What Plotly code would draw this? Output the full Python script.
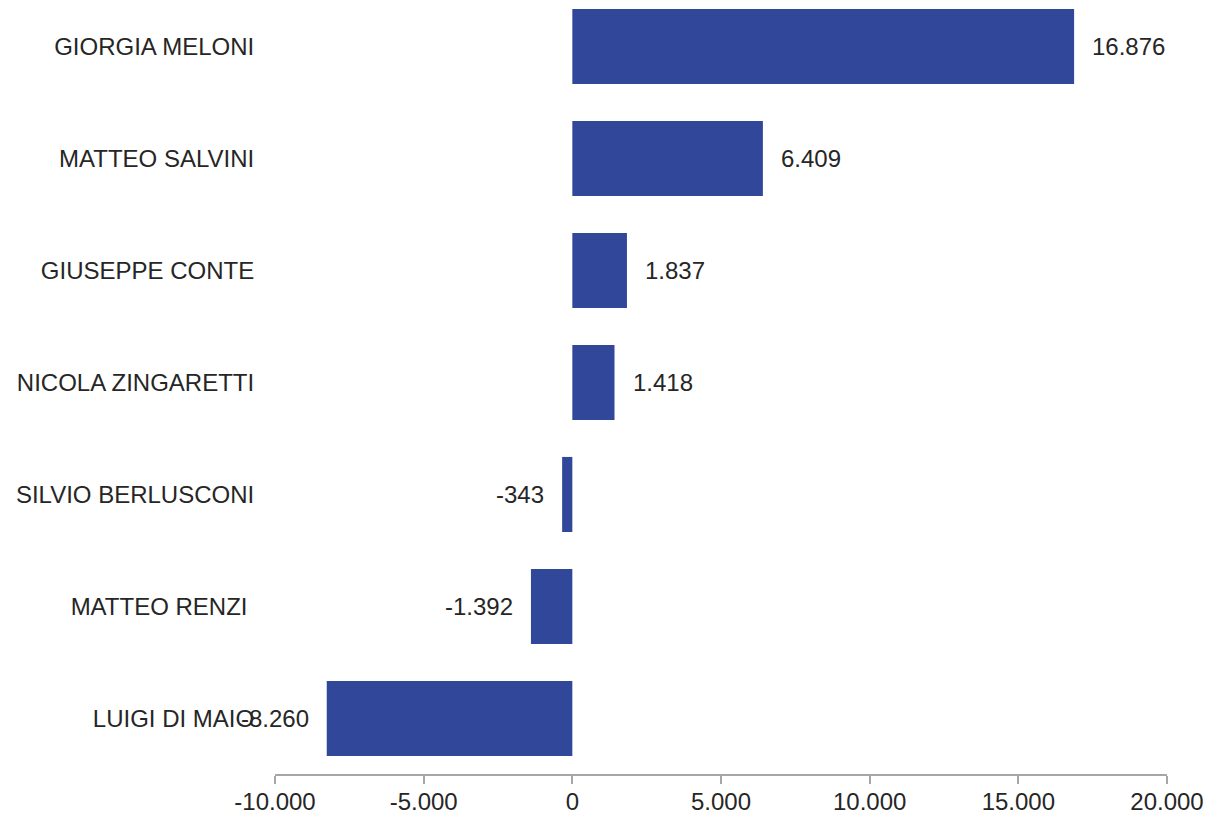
import plotly.graph_objects as go

names = ["GIORGIA MELONI", "MATTEO SALVINI", "GIUSEPPE CONTE", "NICOLA ZINGARETTI",
         "SILVIO BERLUSCONI", "MATTEO RENZI\u00a0", "LUIGI DI MAIO"]
values = [16876, 6409, 1837, 1418, -343, -1392, -8260]
tick_vals = [-10000, -5000, 0, 5000, 10000, 15000, 20000]

BAR = "#30479a"
TXT = "#262626"
AX = "#a6a6a6"
FONT = "Liberation Sans, Arial, sans-serif"
FS = 24

def fmt(v):
    return f"{v:,}".replace(",", ".")

fig = go.Figure(go.Bar(
    x=values, y=names, orientation="h",
    marker=dict(color=BAR, line=dict(width=0)),
    hoverinfo="skip",
))

for n, v in zip(names, values):
    fig.add_annotation(
        x=v, y=n, text=fmt(v), showarrow=False,
        xanchor="left" if v >= 0 else "right",
        xshift=16 if v >= 0 else -16,
        font=dict(size=FS, color=TXT, family=FONT),
    )

fig.update_layout(
    width=1209, height=814,
    margin=dict(l=275, r=42, t=0, b=40),
    paper_bgcolor="white", plot_bgcolor="white",
    separators=",.",
    bargap=0.33,
    showlegend=False,
    hovermode=False,
    font=dict(family=FONT, size=FS, color=TXT),
    xaxis=dict(
        range=[-10000, 20000], tickvals=tick_vals, ticktext=[fmt(t) for t in tick_vals],
        showline=True, linecolor=AX, linewidth=1.5,
        ticks="outside", ticklen=8, tickcolor=AX, tickwidth=1.5,
        ticklabelstandoff=-3,
        showgrid=False, zeroline=False, automargin=False,
        tickfont=dict(size=FS, color=TXT, family=FONT),
    ),
    yaxis=dict(
        categoryorder="array", categoryarray=names,
        range=[6.496, -0.415],
        showline=False, showgrid=False, zeroline=False,
        ticks="outside", ticklen=15, tickcolor="rgba(0,0,0,0)",
        automargin=False,
        tickfont=dict(size=FS, color=TXT, family=FONT),
    ),
)

fig.write_html(
    "out.html",
    config={"displayModeBar": False},
    post_script="document.body.style.margin='0';document.body.style.overflow='hidden';",
)
